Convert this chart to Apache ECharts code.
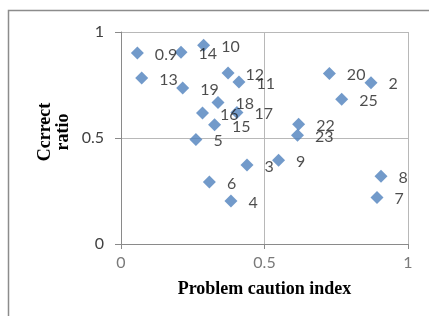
<!DOCTYPE html>
<html>
<head>
<meta charset="utf-8">
<script src="https://cdn.jsdelivr.net/npm/echarts@6/dist/echarts.min.js"></script>
<style>
html, body { margin: 0; padding: 0; background: #fff; }
#chart { width: 429px; height: 316px; }
</style>
</head>
<body>
<div id="chart"></div>
<script>
// 数据
var pointLabels = ['0.9', '14', '10', '13', '19', '12', '11', '18', '16', '17', '15', '5',
    '3', '9', '6', '4', '22', '23', '20', '2', '25', '8', '7'];
var cautionIndex = [0.057, 0.209, 0.288, 0.072, 0.215, 0.373, 0.411, 0.338, 0.284, 0.404, 0.326, 0.261,
    0.439, 0.549, 0.308, 0.383, 0.619, 0.615, 0.726, 0.871, 0.769, 0.906, 0.892];
var correctRatio = [0.901, 0.904, 0.937, 0.783, 0.736, 0.807, 0.764, 0.667, 0.618, 0.620, 0.562, 0.493,
    0.373, 0.395, 0.293, 0.203, 0.565, 0.513, 0.804, 0.761, 0.683, 0.320, 0.219];
var tickValues = [0, 0.5, 1];

var points = [];
for (var i = 0; i < pointLabels.length; i++) {
    points.push({ value: [cautionIndex[i], correctRatio[i]], name: pointLabels[i] });
}

var myChart = echarts.init(document.getElementById('chart'));
var option = {
    animation: false,
    grid: { left: 121, right: 21, top: 32, bottom: 72 },
    graphic: [
        {
            type: 'rect',
            shape: { x: 8.5, y: 10.5, width: 600, height: 600 },
            style: { fill: 'none', stroke: '#8c8c8c', lineWidth: 1.5 }
        },
        {
            type: 'text',
            x: 54, y: 132,
            rotation: Math.PI / 2,
            style: {
                text: 'Ccrrect\nratio',
                font: 'bold 18px "Liberation Serif"',
                fill: '#000',
                align: 'center',
                verticalAlign: 'middle',
                lineHeight: 18
            }
        }
    ],
    xAxis: {
        type: 'value', min: 0, max: 1, interval: 0.5,
        name: 'Problem caution index',
        nameLocation: 'middle',
        nameGap: 36,
        nameTextStyle: { fontFamily: 'Liberation Serif', fontWeight: 'bold', fontSize: 18, color: '#000' },
        axisLine: { show: true, lineStyle: { color: '#8a8a8a', width: 1 } },
        axisTick: { show: true, length: 5, lineStyle: { color: '#8a8a8a' } },
        axisLabel: {
            margin: 11, fontFamily: 'Lato', fontSize: 16, color: '#7a7a7a',
            formatter: function (v) { return tickValues.indexOf(v) >= 0 ? String(v) : ''; }
        },
        splitLine: { show: true, lineStyle: { color: '#b8b8b8', width: 1 } }
    },
    yAxis: {
        type: 'value', min: 0, max: 1, interval: 0.5,
        axisLine: { show: true, lineStyle: { color: '#8a8a8a', width: 1 } },
        axisTick: { show: true, length: 6, lineStyle: { color: '#8a8a8a' } },
        axisLabel: {
            margin: 17, fontFamily: 'Lato', fontSize: 16, color: '#404040',
            formatter: function (v) { return tickValues.indexOf(v) >= 0 ? String(v) : ''; }
        },
        splitLine: { show: true, lineStyle: { color: '#b8b8b8', width: 1 } }
    },
    series: [{
        type: 'scatter',
        symbol: 'diamond',
        symbolSize: 13,
        itemStyle: { color: '#4f81bd' },
        label: {
            show: true,
            position: 'right',
            distance: 11,
            offset: [0, 1.5],
            formatter: '{b}',
            fontFamily: 'Lato',
            fontSize: 16,
            color: '#1f1f1f'
        },
        data: points
    }]
};
myChart.setOption(option);
</script>
</body>
</html>
